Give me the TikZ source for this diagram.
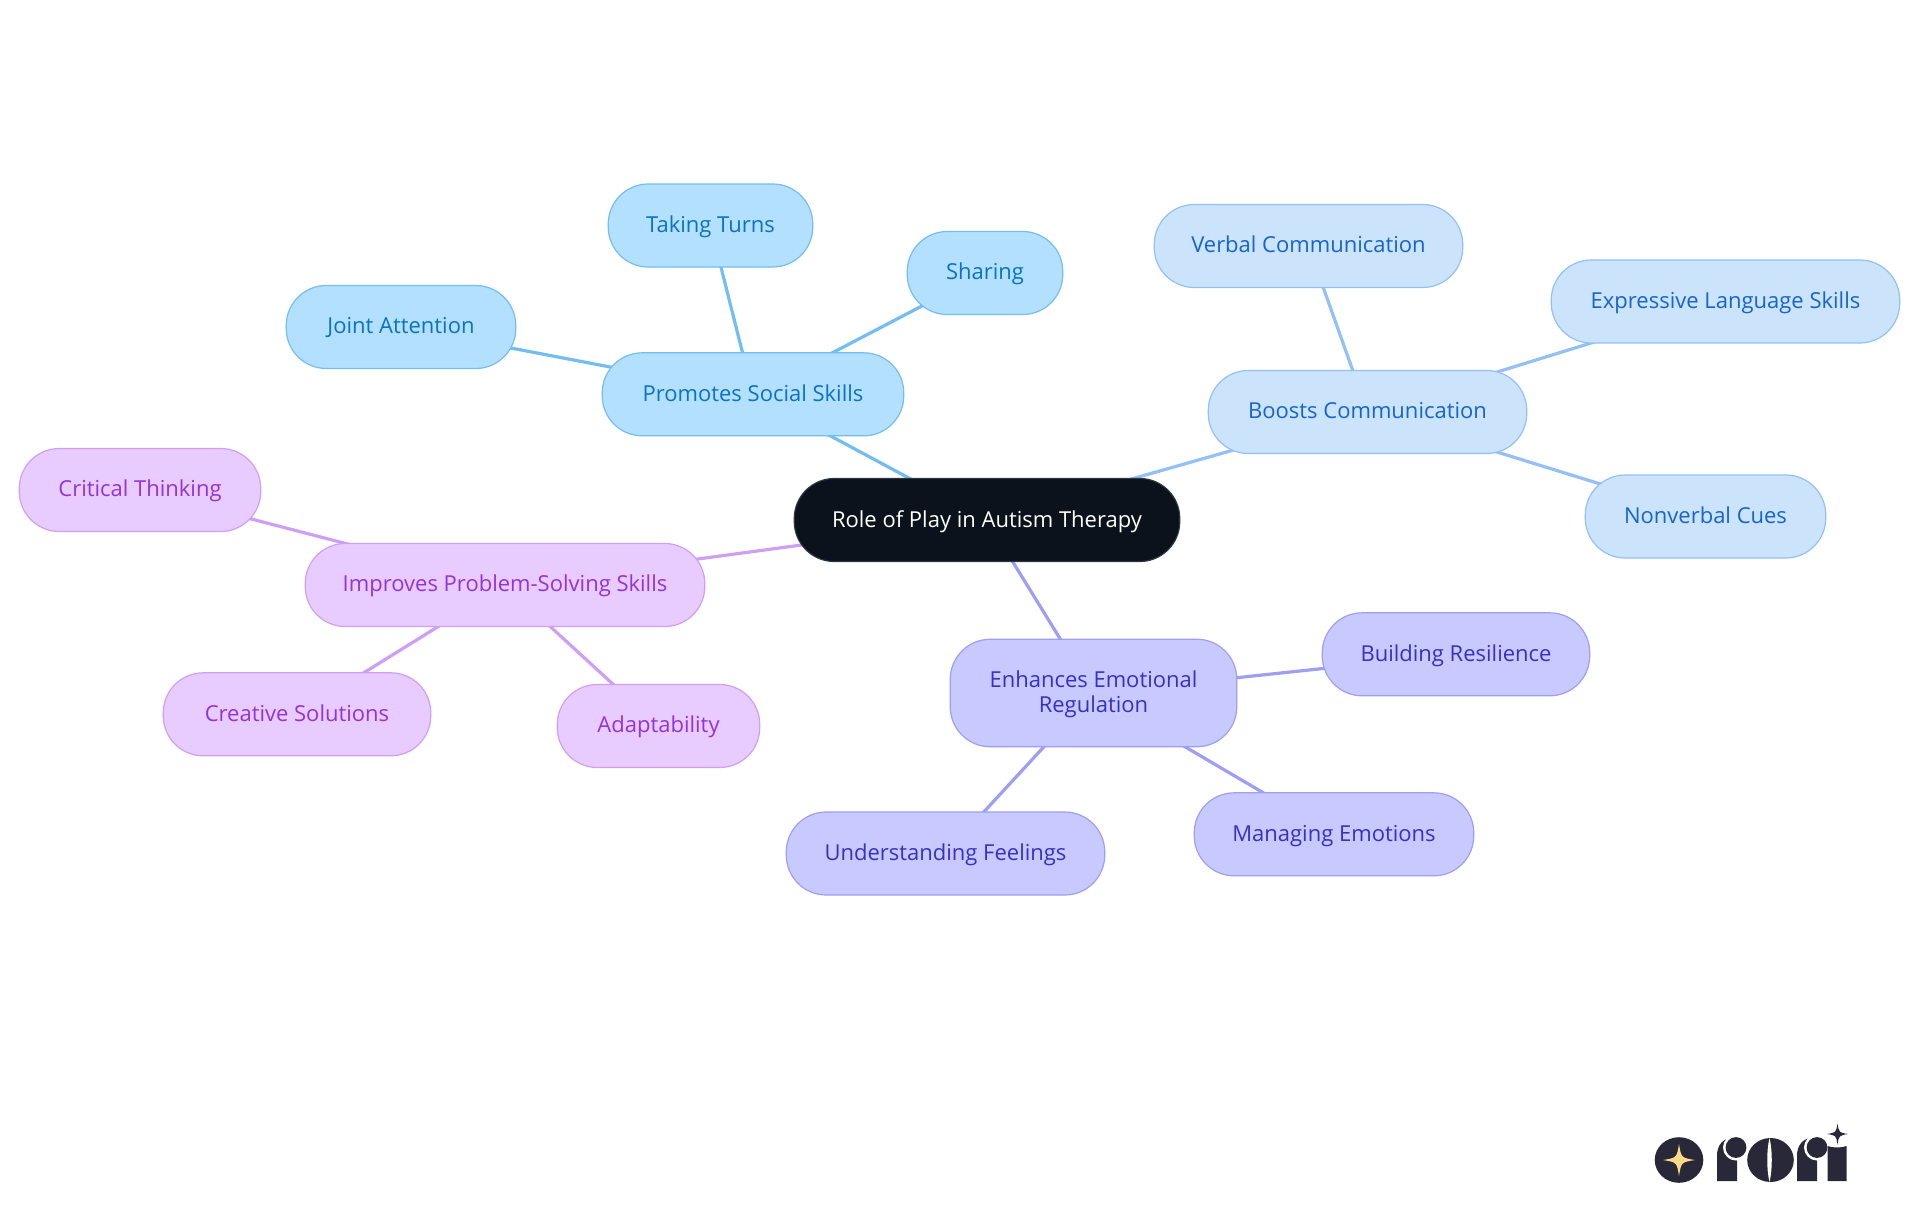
\documentclass[tikz,border=0pt]{standalone}
\usepackage{fontspec}
\setmainfont{Open Sans}
\usetikzlibrary{backgrounds}
\definecolor{skyF}{HTML}{B3E0FF}\definecolor{skyL}{HTML}{74BDF2}\definecolor{skyT}{HTML}{0B72C4}
\definecolor{bluF}{HTML}{CCE3FC}\definecolor{bluL}{HTML}{93C0F5}\definecolor{bluT}{HTML}{1565CC}
\definecolor{indF}{HTML}{C8CAFF}\definecolor{indL}{HTML}{9E9EF5}\definecolor{indT}{HTML}{3730C8}
\definecolor{purF}{HTML}{E8CBFF}\definecolor{purL}{HTML}{CF9FF5}\definecolor{purT}{HTML}{9333D8}
\definecolor{rootF}{HTML}{0B121B}\definecolor{logoD}{HTML}{292838}\definecolor{logoG}{HTML}{FFD98A}
\newcommand{\rstar}[5]{\fill[#5] (#1,#2-#4) .. controls (#1+.14*#3,#2-.14*#4) .. (#1+#3,#2) .. controls (#1+.14*#3,#2+.14*#4) .. (#1,#2+#4) .. controls (#1-.14*#3,#2+.14*#4) .. (#1-#3,#2) .. controls (#1-.14*#3,#2-.14*#4) .. (#1,#2-#4) -- cycle;}
\tikzset{
 x=1pt,y=-1pt,
 mapnode/.style={rectangle,rounded corners=40pt,inner sep=0pt,minimum height=83pt,line width=1.2pt,align=center,text height=17.4pt,text depth=3.6pt,font=\fontsize{22}{25}\selectfont},
 skyn/.style={mapnode,draw=skyL,fill=skyF,text=skyT},
 blun/.style={mapnode,draw=bluL,fill=bluF,text=bluT},
 indn/.style={mapnode,draw=indL,fill=indF,text=indT},
 purn/.style={mapnode,draw=purL,fill=purF,text=purT},
 rootn/.style={mapnode,draw=rootF!85!white,fill=rootF,text=white},
 link/.style={line width=3.2pt},
}
\begin{document}
\begin{tikzpicture}
\path[use as bounding box] (0,0) rectangle (1920,1215);
\node[rootn,minimum width=385.5pt,text height=18pt] (root) at (987,520) {Role of Play in Autism Therapy};
\node[skyn,minimum width=301.5pt,text height=18pt] (social) at (753,394.3) {Promotes Social Skills};
\node[skyn,minimum width=204.5pt] (turns) at (710.5,225.5) {Taking Turns};
\node[skyn,minimum width=155.5pt] (sharing) at (985,273) {Sharing};
\node[skyn,minimum width=229.5pt] (joint) at (401,327) {Joint Attention};
\node[blun,minimum width=318.5pt] (comm) at (1367.5,412) {Boosts Communication};
\node[blun,minimum width=308.5pt] (verbal) at (1308.5,246) {Verbal Communication};
\node[blun,minimum width=348.5pt] (express) at (1725.5,301.5) {Expressive Language Skills};
\node[blun,minimum width=240.5pt] (nonverbal) at (1705.5,516.5) {Nonverbal Cues};
\node[indn,minimum width=286.5pt,minimum height=107.5pt,text height=42.5pt,text depth=3.6pt] (emo) at (1093.5,693) {Enhances Emotional\\Regulation};
\node[indn,minimum width=267.5pt,text height=18pt] (resil) at (1456,654.3) {Building Resilience};
\node[indn,minimum width=279.5pt,text height=18pt] (manage) at (1334,834.3) {Managing Emotions};
\node[indn,minimum width=318.5pt] (feel) at (945.5,853.5) {Understanding Feelings};
\node[purn,minimum width=399.5pt] (prob) at (505,585) {Improves Problem-Solving Skills};
\node[purn,minimum width=267.5pt,text height=18pt] (creat) at (297,714.3) {Creative Solutions};
\node[purn,minimum width=202.5pt] (adapt) at (658.5,726) {Adaptability};
\node[purn,minimum width=241.5pt] (crit) at (140,490) {Critical Thinking};
\begin{scope}[on background layer]
\fill[white] (0,0) rectangle (1920,1215);
\draw[link,skyL] (root.center) -- (social.center);
\draw[link,skyL] (social.center) -- (turns.center);
\draw[link,skyL] (social.center) -- (sharing.center);
\draw[link,skyL] (social.center) -- (joint.center);
\draw[link,bluL] (root.center) -- (comm.center);
\draw[link,bluL] (comm.center) -- (verbal.center);
\draw[link,bluL] (comm.center) -- (express.center);
\draw[link,bluL] (comm.center) -- (nonverbal.center);
\draw[link,indL] (root.center) -- (emo.center);
\draw[link,indL] (emo.center) -- (resil.center);
\draw[link,indL] (emo.center) -- (manage.center);
\draw[link,indL] (emo.center) -- (feel.center);
\draw[link,purL] (root.center) -- (prob.center);
\draw[link,purL] (prob.center) -- (creat.center);
\draw[link,purL] (prob.center) -- (adapt.center);
\draw[link,purL] (prob.center) -- (crit.center);
\end{scope}
% logo
\fill[logoD] (1679,1160) ellipse [x radius=24.3,y radius=22.8];
\rstar{1679}{1160}{16}{16}{logoG}
\fill[logoD] (1717,1181) -- (1717,1156) .. controls (1717,1146) and (1722,1139) .. (1731,1138) -- (1737,1160) -- (1737,1181) -- cycle;
\fill[white] (1736,1147.5) circle (13);
\fill[logoD] (1736,1147.5) circle (10.4);
\fill[logoD] (1770.5,1160) ellipse [x radius=23.3,y radius=22];
\fill[white] (1769.5,1138) .. controls (1766.5,1150) and (1766.5,1170) .. (1769.5,1182) .. controls (1772.5,1170) and (1772.5,1150) .. (1769.5,1138) -- cycle;
\fill[logoD] (1797,1181) -- (1797,1156) .. controls (1797,1146) and (1802,1139) .. (1811,1138) -- (1817,1160) -- (1817,1181) -- cycle;
\fill[white] (1817,1147.5) circle (13);
\fill[logoD] (1817,1147.5) circle (10.4);
\fill[logoD] (1827.5,1181) -- (1827.5,1146) .. controls (1833,1148) and (1841,1148) .. (1846.5,1146) -- (1846.5,1181) -- cycle;
\rstar{1837.5}{1134}{10.5}{10.5}{logoD}
\end{tikzpicture}
\end{document}
